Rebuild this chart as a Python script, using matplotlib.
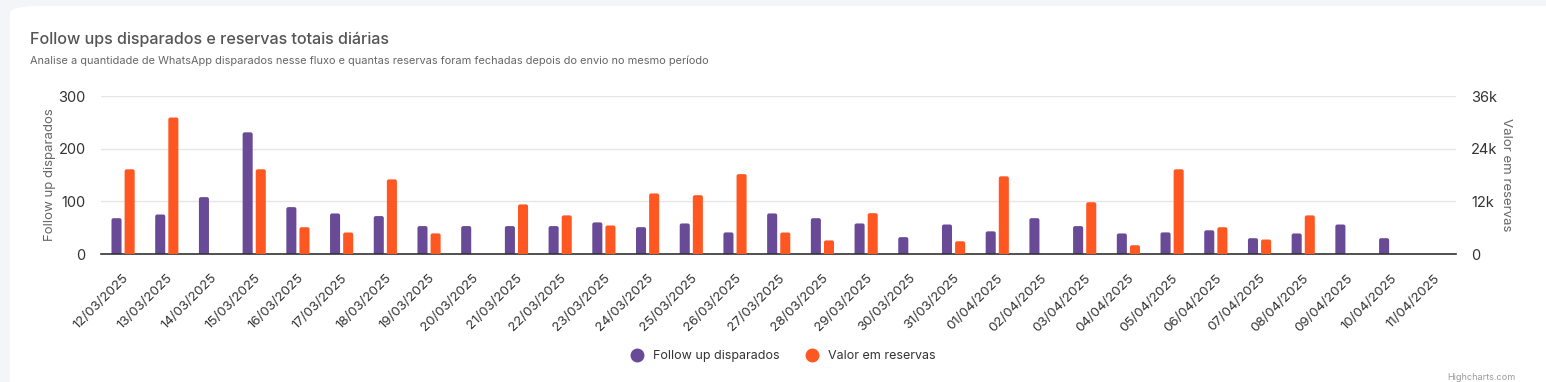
import numpy as np
import matplotlib.pyplot as plt
from matplotlib.patches import FancyBboxPatch
from matplotlib.lines import Line2D
from matplotlib.ticker import FuncFormatter

plt.rcParams['font.family'] = ['Inter', 'DejaVu Sans']

dates = ['12/03/2025', '13/03/2025', '14/03/2025', '15/03/2025', '16/03/2025',
         '17/03/2025', '18/03/2025', '19/03/2025', '20/03/2025', '21/03/2025',
         '22/03/2025', '23/03/2025', '24/03/2025', '25/03/2025', '26/03/2025',
         '27/03/2025', '28/03/2025', '29/03/2025', '30/03/2025', '31/03/2025',
         '01/04/2025', '02/04/2025', '03/04/2025', '04/04/2025', '05/04/2025',
         '06/04/2025', '07/04/2025', '08/04/2025', '09/04/2025', '10/04/2025',
         '11/04/2025']

# follow ups disparados (left axis)
follow_ups = [68, 75, 108, 231, 89, 77, 72, 53, 53, 53,
              53, 60, 51, 58, 41, 77, 68, 58, 32, 56,
              43, 68, 53, 39, 41, 45, 30, 39, 56, 30, 0]

# valor em reservas (right axis)
reservas = [19300, 31100, 0, 19300, 6100, 4900, 17000, 4700, 0, 11300,
            8800, 6500, 13800, 13400, 18200, 4900, 3100, 9300, 0, 2900,
            17700, 0, 11800, 2000, 19300, 6100, 3300, 8800, 0, 0, 0]

purple = '#684A97'
orange = '#FF5722'

fig = plt.figure(figsize=(15.46, 3.82), dpi=100)
fig.patch.set_facecolor('#F4F5F9')

# white card behind the chart
card = FancyBboxPatch((10 / 1546, -0.05), 1.2, 1 - 6 / 382 + 0.05,
                      boxstyle='round,pad=0,rounding_size=0.02',
                      transform=fig.transFigure, facecolor='white',
                      edgecolor='none', zorder=-10)
fig.patches.append(card)

ax = fig.add_axes([101 / 1546, 1 - 254 / 382, 1355 / 1546, 158 / 382])
ax.patch.set_alpha(0)
ax2 = ax.twinx()
ax2.patch.set_alpha(0)

x = np.arange(len(dates))
ax.set_xlim(-0.5, len(dates) - 0.5)
ax.set_ylim(0, 300)
ax2.set_ylim(0, 36000)


def rounded_bars(a, xs, vals, width, color):
    # column with rounded top corners (bottom hidden under the axis)
    fig.canvas.draw()
    bb = a.get_window_extent()
    x0, x1 = a.get_xlim()
    y0, y1 = a.get_ylim()
    px_x = bb.width / (x1 - x0)
    px_y = bb.height / (y1 - y0)
    r = 2.0 / px_x
    aspect = px_x / px_y
    below = 4.0 / px_y
    for xi, v in zip(xs, vals):
        if v <= 0:
            continue
        p = FancyBboxPatch((xi - width / 2, -below), width, v + below,
                           boxstyle=f'round,pad=0,rounding_size={r}',
                           mutation_aspect=aspect, facecolor=color,
                           edgecolor='none', zorder=3)
        a.add_patch(p)


w = 0.23
rounded_bars(ax, x - 0.145, follow_ups, w, purple)
rounded_bars(ax2, x + 0.155, reservas, w, orange)

ax.set_yticks([0, 100, 200, 300])
ax2.set_yticks([0, 12000, 24000, 36000])
ax2.yaxis.set_major_formatter(FuncFormatter(lambda v, p: '0' if v == 0 else f'{int(v / 1000)}k'))

ax.grid(axis='y', color='#e6e6e6', linewidth=1, zorder=0)
ax.set_axisbelow(True)
for a in (ax, ax2):
    for s in a.spines.values():
        s.set_visible(False)
    a.tick_params(length=0, labelsize=10.5, labelcolor='#333333')
ax.spines['bottom'].set_visible(True)
ax.spines['bottom'].set_color('#333333')
ax.spines['bottom'].set_linewidth(1.2)
ax.spines['bottom'].set_zorder(5)
ax.tick_params(axis='y', pad=11)
ax2.tick_params(axis='y', pad=11)

ax.set_xticks(x)
ax.set_xticklabels(dates, rotation=45, ha='right', rotation_mode='anchor',
                   fontsize=9.6, color='#333333')
ax.tick_params(axis='x', pad=13)

ax.set_ylabel('Follow up disparados', fontsize=9.5, color='#666666')
ax.yaxis.set_label_coords(-0.0335, 0.5)
ax2.set_ylabel('Valor em reservas', fontsize=9.5, color='#666666', rotation=270,
               va='bottom')
ax2.yaxis.set_label_coords(1.0325, 0.5)

fig.text(30 / 1546, 1 - 39 / 382, 'Follow ups disparados e reservas totais diárias',
         fontsize=11.6, color='#555555', va='center', fontweight='medium')
fig.text(30 / 1546, 1 - 61 / 382,
         'Analise a quantidade de WhatsApp disparados nesse fluxo e quantas reservas foram fechadas depois do envio no mesmo período',
         fontsize=7.9, color='#666666', va='center')

# legend
handles = [Line2D([], [], marker='o', linestyle='', markersize=9, color=purple),
           Line2D([], [], marker='o', linestyle='', markersize=9, color=orange)]
fig.legend(handles, ['Follow up disparados', 'Valor em reservas'], loc='center',
           bbox_to_anchor=(780 / 1546, 1 - 356 / 382),
           ncol=2, frameon=False, fontsize=9, handletextpad=0.3,
           columnspacing=1.6, labelcolor='#333333')

fig.text(1515 / 1546, 1 - 377 / 382, 'Highcharts.com', fontsize=6.5,
         color='#999999', ha='right', va='center')

fig.savefig('out.png', dpi=100)
